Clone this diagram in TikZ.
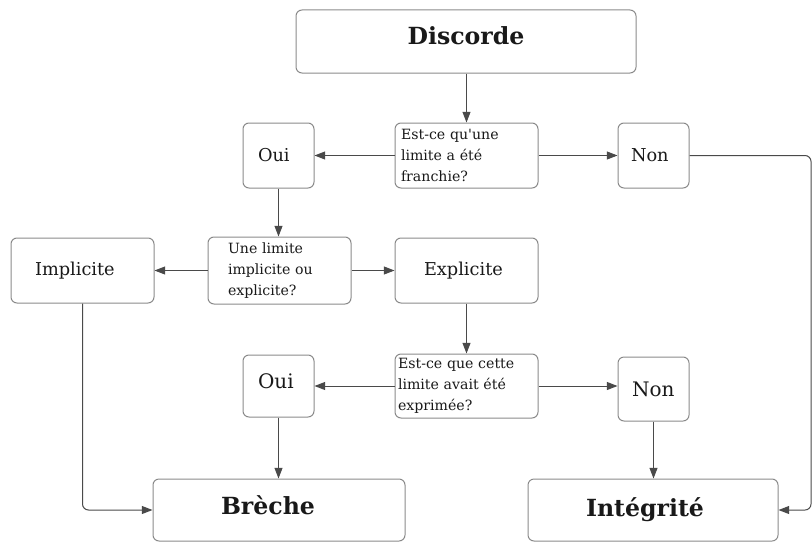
\documentclass[tikz,border=0pt]{standalone}
\usepackage{fontspec}
\setmainfont{DejaVu Serif}
\usetikzlibrary{arrows.meta}
\definecolor{boxgray}{HTML}{8A8A8A}
\definecolor{linegray}{HTML}{4A4A4A}
\begin{document}
\begin{tikzpicture}[x=0.75pt,y=-0.75pt,
  box/.style={draw=boxgray, rounded corners=4.5pt, line width=0.75pt, align=left, inner ysep=0pt, text=black!90},
  qtext/.style={font=\fontsize{10.6pt}{15.75pt}\selectfont},
  mtext/.style={font=\fontsize{13.3pt}{16pt}\selectfont},
  ltext/.style={font=\fontsize{15pt}{17pt}\selectfont},
  btext/.style={font=\fontsize{17.7pt}{20pt}\selectfont\bfseries},
  arr/.style={draw=linegray, line width=0.75pt, -{Triangle[length=8pt,width=6pt]}},
]
\useasboundingbox (0,0) rectangle (812,542);

\node[box, btext, align=center, text width=255pt, inner xsep=0pt, minimum height=47.25pt, text depth=9pt] (disc) at (466,41.5) {Discorde};

\node[box, qtext, text width=98.25pt, inner xsep=4.5pt, minimum height=48.75pt] (q1) at (466.5,155.5) {Est-ce qu\textquotesingle une\\limite a été\\franchie?};
\node[box, mtext, text width=30.75pt, inner xsep=11.25pt, minimum height=48.75pt] (oui1) at (278.5,155.5) {Oui};
\node[box, mtext, text width=33.75pt, inner xsep=9.75pt, minimum height=48.75pt] (non1) at (653.5,155.5) {Non};

\node[box, qtext, text width=77.25pt, inner xsep=15pt, minimum height=50.25pt] (q2) at (279.5,270.5) {Une limite\\implicite ou\\explicite?};
\node[box, mtext, text width=71.25pt, inner xsep=18pt, minimum height=48.75pt] (impl) at (82.5,270.5) {Implicite};
\node[box, mtext, text width=63.75pt, inner xsep=21.75pt, minimum height=48.75pt] (expl) at (466.5,270.5) {Explicite};

\node[box, qtext, text width=102.75pt, inner xsep=2.25pt, minimum height=48pt] (q3) at (466.5,386) {Est-ce que cette\\limite avait été\\exprimée?};
\node[box, ltext, text width=30.75pt, inner xsep=11.25pt, minimum height=46.5pt, text depth=8pt] (oui2) at (278.5,386) {Oui};
\node[box, ltext, text width=32.25pt, inner xsep=10.5pt, minimum height=48pt] (non2) at (653.5,389) {Non};

\node[box, btext, text width=87pt, inner xsep=51pt, minimum height=46.5pt, text depth=8pt] (breche) at (279,510) {Brèche};
\node[box, btext, text width=100.5pt, inner xsep=43.5pt, minimum height=46.5pt] (integ) at (653,510) {Intégrité};

\coordinate (rc) at (811,0);

\draw[arr] (disc.south -| q1.north) -- (q1.north);
\draw[arr] (q1.west) -- (oui1.east);
\draw[arr] (q1.east) -- (non1.west);
\draw[arr] (oui1.south) -- (oui1.south |- q2.north);
\draw[arr] (q2.west) -- (impl.east);
\draw[arr] (q2.east) -- (expl.west);
\draw[arr] (expl.south) -- (q3.north);
\draw[arr] (q3.west) -- (oui2.east);
\draw[arr] (q3.east) -- (q3.east -| non2.west);
\draw[arr] (oui2.south) -- (oui2.south |- breche.north);
\draw[arr] (non2.south) -- (non2.south |- integ.north);
\draw[arr, rounded corners=4.5pt] (impl.south) |- (breche.west);
\draw[arr, rounded corners=4.5pt] (non1.east) -- (non1.east -| rc) -- (rc |- integ.east) -- (integ.east);
\end{tikzpicture}
\end{document}
